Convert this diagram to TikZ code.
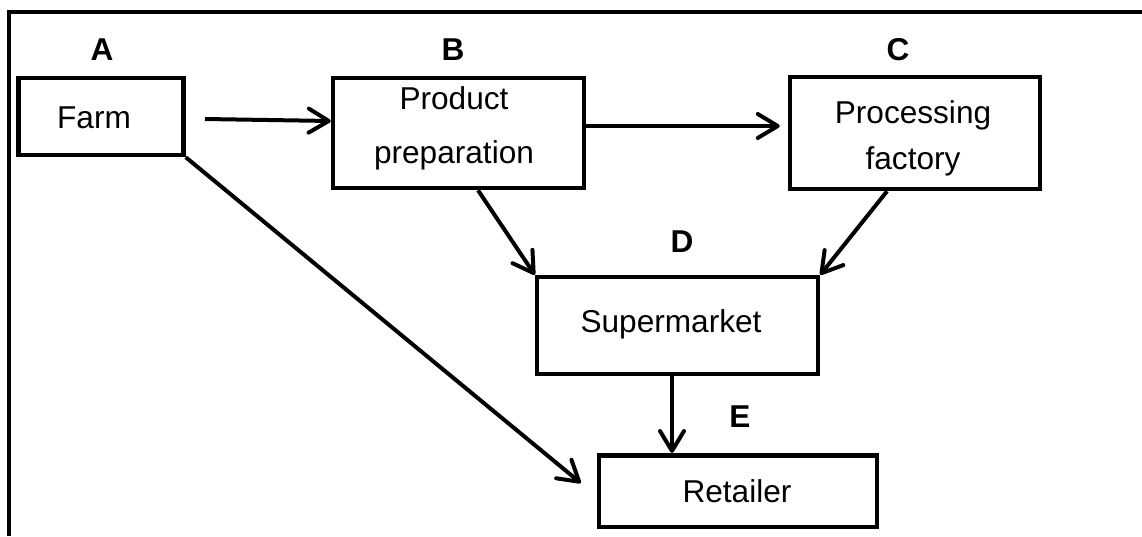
\documentclass[tikz,border=0pt]{standalone}
\usepackage{fontspec}
\setmainfont{Liberation Sans}
\usetikzlibrary{arrows.meta}
\begin{document}
\begin{tikzpicture}[x=1pt,y=-1pt,
  txt/.style={inner sep=0pt, font=\fontsize{31.6pt}{36pt}\selectfont},
  lbl/.style={inner sep=0pt, font=\fontsize{31.6pt}{36pt}\selectfont\bfseries},
  box/.style={draw, line width=4.5pt, inner sep=0pt},
  arr/.style={line width=4pt, -{Straight Barb[length=20pt,width=24pt,round]}}]
\useasboundingbox (0,0) rectangle (1142,536);
% frame
\draw[line width=4.5pt] (9,536) -- (9,12) -- (1142,12);
% boxes
\node[box, minimum width=165pt, minimum height=77pt] (farm) at (101,116.5) {};
\node[box, minimum width=251pt, minimum height=110pt] (prep) at (458.5,133) {};
\node[box, minimum width=250pt, minimum height=112pt] (proc) at (915,133) {};
\node[box, minimum width=281pt, minimum height=97pt] (super) at (677.5,325.5) {};
\node[box, minimum width=278pt, minimum height=71.5pt] (ret) at (738,491) {};
% texts
\node[txt] (farmtxt) at (94,118) {Farm};
\node[txt, align=center] (preptxt) at (454,128) {Product\\[18pt]preparation};
\node[txt, align=center] (proctxt) at (913,138) {Processing\\[10pt]factory};
\node[txt] (supertxt) at (671,324) {Supermarket};
\node[txt] (rettxt) at (737,491) {Retailer};
% labels
\node[lbl] (la) at (102,50) {A};
\node[lbl] (lb) at (453,50) {B};
\node[lbl] (lc) at (898,50) {C};
\node[lbl] (ld) at (682,242) {D};
\node[lbl] (le) at (740,417) {E};
% connectors
\coordinate (fstart) at (205,119);
\draw[arr] (fstart) -- ([yshift=12pt]prep.west);
\draw[arr] ([yshift=7pt]prep.east) -- ([yshift=7pt,xshift=-8pt]proc.west);
\draw[arr] ([xshift=19.5pt]prep.south) -- (super.north west);
\draw[arr] ([xshift=-28pt]proc.south) -- (super.north east);
\draw[arr] ([xshift=-5.5pt]super.south) -- ([xshift=-5.5pt]super.south |- ret.north);
\draw[arr] (farm.south east) -- ([xshift=-16pt,yshift=8pt]ret.west);
\end{tikzpicture}
\end{document}
